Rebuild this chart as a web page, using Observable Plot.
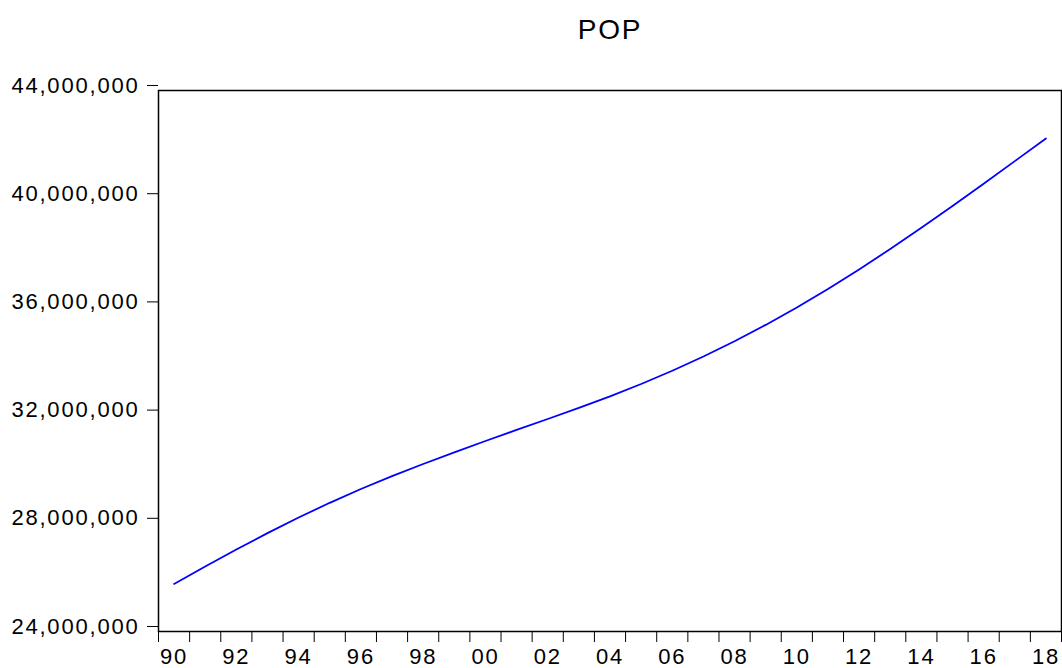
<!DOCTYPE html>
<html>
<head>
<meta charset="utf-8">
<script src="https://cdn.jsdelivr.net/npm/d3@7"></script>
<script src="https://cdn.jsdelivr.net/npm/@observablehq/plot@0.6"></script>
<style>
  html, body { margin: 0; padding: 0; background: #fff; }
</style>
</head>
<body>
<div id="chart"></div>
<script>
const title = "POP";
const years = [1990, 1991, 1992, 1993, 1994, 1995, 1996, 1997, 1998, 1999,
               2000, 2001, 2002, 2003, 2004, 2005, 2006, 2007, 2008, 2009,
               2010, 2011, 2012, 2013, 2014, 2015, 2016, 2017, 2018];
const pop = [25758872, 26400468, 27028330, 27635517, 28213777, 28757788, 29266415, 29742980, 30192750, 30623406,
             31042238, 31451513, 31855110, 32264159, 32692153, 33149720, 33641007, 34166976, 34730604, 35333882,
             35977451, 36661438, 37383899, 38140135, 38923688, 39728020, 40551398, 41389174, 42228415];
const yTicks = [24000000, 28000000, 32000000, 36000000, 40000000, 44000000];
const xLabelYears = [1990, 1992, 1994, 1996, 1998, 2000, 2002, 2004, 2006, 2008, 2010, 2012, 2014, 2016, 2018];
const xTickLabels = ["90", "92", "94", "96", "98", "00", "02", "04", "06", "08", "10", "12", "14", "16", "18"];

const data = years.map((y, i) => ({year: y, value: pop[i]}));
const boundaries = years.concat([years[years.length - 1] + 1]);
const labelPos = xLabelYears.map(y => y + 0.5);

const chart = Plot.plot({
  width: 1062,
  height: 668,
  marginLeft: 158,
  marginRight: 1,
  marginTop: 90,
  marginBottom: 37,
  x: {type: "linear", domain: [years[0], years[years.length - 1] + 1]},
  y: {domain: [yTicks[0], yTicks[yTicks.length - 1]]},
  style: {
    fontFamily: "'Liberation Sans', Arial, sans-serif",
    fontSize: "22px",
    color: "black",
    background: "white",
    letterSpacing: "1.8px"
  },
  marks: [
    Plot.frame({stroke: "black", strokeWidth: 1.5}),
    Plot.axisY({ticks: yTicks, tickSize: 11, tickPadding: 8, tickFormat: d3.format(","), fontSize: 22, dy: -5, label: null, strokeOpacity: 1}),
    Plot.axisX({ticks: boundaries, tickSize: 11, tickFormat: () => "", label: null, strokeOpacity: 1}),
    Plot.axisX({ticks: labelPos, tickSize: 0, tickPadding: 17, fontSize: 22,
                tickFormat: d => xTickLabels[labelPos.indexOf(d)], label: null}),
    Plot.line(data, {x: d => d.year + 0.5, y: "value", stroke: "#0000ff", strokeWidth: 1.8}),
    Plot.text([title], {frameAnchor: "top", lineAnchor: "bottom", dy: -52, fontSize: 28})
  ]
});
document.getElementById("chart").appendChild(chart);
</script>
</body>
</html>
